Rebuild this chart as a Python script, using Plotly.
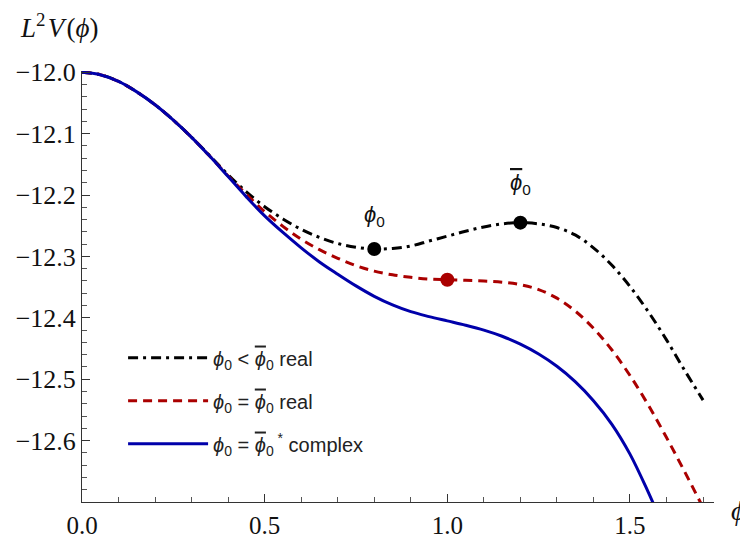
import plotly.graph_objects as go

# phi values (shared grid)
x_grid = [0, 0.05, 0.1, 0.15, 0.2, 0.25, 0.3, 0.35, 0.4, 0.45, 0.5, 0.55, 0.6, 0.65, 0.7, 0.75, 0.8,
          0.85, 0.9, 0.95, 1.0, 1.05, 1.1, 1.15, 1.2, 1.25, 1.3, 1.35, 1.4, 1.45, 1.5, 1.55, 1.6, 1.65, 1.7]

# phi0 < phibar0 real (black dot-dashed)
v_black = [-12.0, -12.004, -12.015, -12.032, -12.053, -12.078, -12.106, -12.136, -12.167, -12.195,
           -12.219, -12.239, -12.256, -12.269, -12.279, -12.285, -12.288, -12.287, -12.283, -12.275,
           -12.267, -12.259, -12.252, -12.247, -12.245, -12.247, -12.253, -12.265, -12.286, -12.314,
           -12.349, -12.390, -12.436, -12.486, -12.534]

# phi0 = phibar0 real (red dashed)
v_red = [-12.0, -12.004, -12.015, -12.032, -12.053, -12.078, -12.106, -12.137, -12.169, -12.199,
         -12.227, -12.251, -12.272, -12.289, -12.303, -12.315, -12.324, -12.330, -12.334, -12.337,
         -12.338, -12.339, -12.340, -12.342, -12.346, -12.354, -12.368, -12.389, -12.417, -12.452,
         -12.494, -12.542, -12.595, -12.651, -12.709]

# phi0 = phibar0* complex (blue solid)
v_blue = [-12.0, -12.004, -12.015, -12.032, -12.053, -12.078, -12.106, -12.137, -12.170, -12.203,
          -12.234, -12.261, -12.286, -12.309, -12.329, -12.348, -12.365, -12.379, -12.390, -12.398,
          -12.405, -12.412, -12.420, -12.430, -12.443, -12.459, -12.479, -12.504, -12.535, -12.573,
          -12.622, -12.684, -12.752]
x_blue = x_grid[:len(v_blue)]

# extremum / inflection points
x_black_pts = [0.8, 1.2]
v_black_pts = [-12.288, -12.245]
x_red_pts = [1.0]
v_red_pts = [-12.338]

x_ticks = [0, 0.5, 1.0, 1.5]
y_ticks = [-12.0, -12.1, -12.2, -12.3, -12.4, -12.5, -12.6]

OV = "<span style='text-decoration:overline'><i>ϕ</i></span><sub>0</sub>"
names = ["<i>ϕ</i><sub>0</sub> < " + OV + " real",
         "<i>ϕ</i><sub>0</sub> = " + OV + " real",
         "<i>ϕ</i><sub>0</sub> = " + OV + "<sup> *</sup> complex"]

BLACK = "#000000"
RED = "#aa0000"
BLUE = "#0000aa"

fig = go.Figure()
fig.add_trace(go.Scatter(x=x_grid, y=v_black, mode="lines", name=names[0], legendgroup="a",
                         line=dict(color=BLACK, width=3, dash="10px,5px,3px,5px", shape="spline")))
fig.add_trace(go.Scatter(x=x_grid, y=v_red, mode="lines", name=names[1], legendgroup="b",
                         line=dict(color=RED, width=3, dash="9px,6px", shape="spline")))
fig.add_trace(go.Scatter(x=x_blue, y=v_blue, mode="lines", name=names[2], legendgroup="c",
                         line=dict(color=BLUE, width=3, shape="spline")))
fig.add_trace(go.Scatter(x=x_black_pts, y=v_black_pts, mode="markers", showlegend=False,
                         marker=dict(color=BLACK, size=14)))
fig.add_trace(go.Scatter(x=x_red_pts, y=v_red_pts, mode="markers", showlegend=False,
                         marker=dict(color=RED, size=14)))

serif = "Liberation Serif, Times New Roman, serif"
sans = "Liberation Sans, Arial, sans-serif"

fig.update_layout(
    width=740, height=531,
    margin=dict(l=74, r=34, t=63, b=37, autoexpand=False),
    plot_bgcolor="white", paper_bgcolor="white",
    showlegend=True,
    legend=dict(x=0.065, y=0.38, xanchor="left", yanchor="top", bgcolor="rgba(0,0,0,0)",
                font=dict(family=sans, size=20, color="#222"), tracegroupgap=14,
                traceorder="grouped", itemwidth=80),
    xaxis=dict(range=[0, 1.73], automargin=False, showgrid=False, zeroline=False, showline=True,
               linecolor="#333", linewidth=1, ticks="inside", ticklen=8, tickcolor="#333",
               tickvals=x_ticks, tickformat=".1f", ticklabelstandoff=1,
               tickfont=dict(family=serif, size=25, color="#111"),
               minor=dict(dtick=0.1, tick0=0, ticks="inside", ticklen=5, tickcolor="#555")),
    yaxis=dict(range=[-12.7, -11.998], automargin=False, showgrid=False, zeroline=False, showline=True,
               linecolor="#333", linewidth=1, ticks="inside", ticklen=8, tickcolor="#333",
               tickvals=y_ticks, tickformat=".1f",
               tickfont=dict(family=serif, size=26, color="#111"),
               minor=dict(dtick=0.02, tick0=-12.0, ticks="inside", ticklen=5, tickcolor="#555")),
    annotations=[
        dict(x=0.8, y=-12.234, xref="x", yref="y", text="<i>ϕ</i><sub>0</sub>", showarrow=False,
             font=dict(family=sans, size=22, color="#111")),
        dict(x=1.2, y=-12.182, xref="x", yref="y", text=OV, showarrow=False,
             font=dict(family=sans, size=22, color="#111")),
        dict(x=-0.101, y=1.104, xref="paper", yref="paper", xanchor="left", yanchor="middle",
             text="<i>L</i><sup>2</sup>\u200a<i>V</i>\u200a(<i>ϕ</i>)", showarrow=False,
             font=dict(family=serif, size=27, color="#111")),
        dict(x=1.038, y=-0.02, xref="paper", yref="paper", xanchor="center", yanchor="middle",
             text="<i>ϕ</i>", showarrow=False, font=dict(family=serif, size=28, color="#111")),
    ],
)

fig.write_html("out.html")
